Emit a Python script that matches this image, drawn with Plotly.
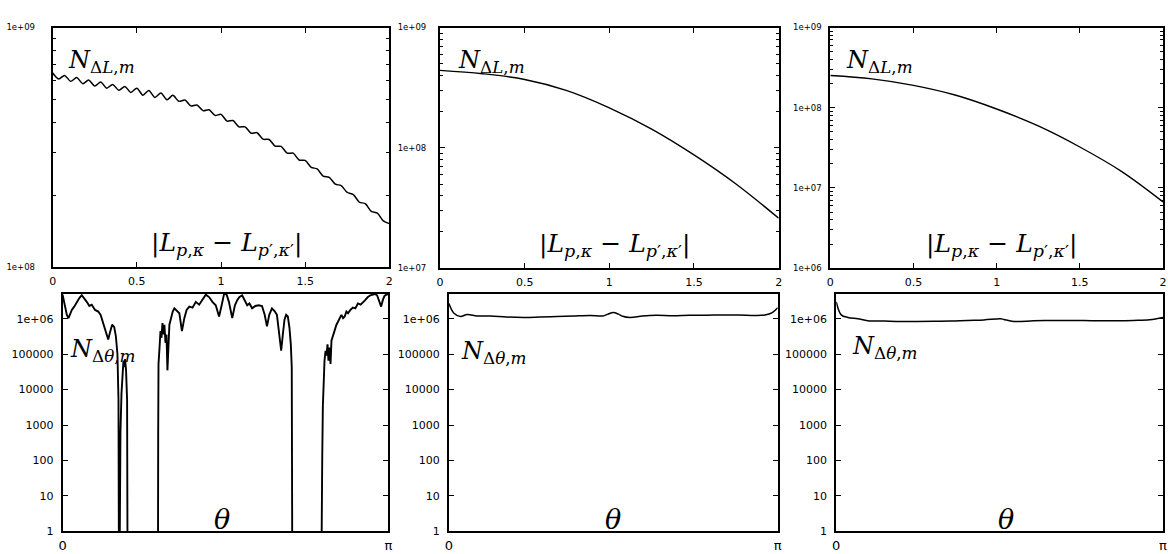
import plotly.graph_objects as go

# ---------------- data ----------------
# Top row: N_{ΔL,m} versus |L_{p,κ} - L_{p',κ'}|
dl_x_left = [0.000, 0.036, 0.071, 0.107, 0.143, 0.179, 0.214, 0.250, 0.286, 0.321,
             0.357, 0.393, 0.429, 0.464, 0.500, 0.536, 0.571, 0.607, 0.643, 0.679,
             0.714, 0.750, 0.786, 0.821, 0.857, 0.893, 0.929, 0.964, 1.000, 1.036,
             1.071, 1.107, 1.143, 1.179, 1.214, 1.250, 1.286, 1.321, 1.357, 1.393,
             1.429, 1.464, 1.500, 1.536, 1.571, 1.607, 1.643, 1.679, 1.714, 1.750,
             1.786, 1.821, 1.857, 1.893, 1.929, 1.964, 2.000]
dl_y_left = [6.46e8, 6.10e8, 6.31e8, 5.96e8, 6.18e8, 5.83e8, 6.04e8, 5.70e8, 5.92e8, 5.58e8,
             5.79e8, 5.47e8, 5.68e8, 5.36e8, 5.58e8, 5.22e8, 5.46e8, 5.11e8, 5.33e8, 4.99e8,
             5.21e8, 4.92e8, 4.98e8, 4.71e8, 4.75e8, 4.50e8, 4.54e8, 4.30e8, 4.34e8, 4.07e8,
             4.09e8, 3.85e8, 3.85e8, 3.62e8, 3.64e8, 3.42e8, 3.41e8, 3.20e8, 3.19e8, 2.99e8,
             2.99e8, 2.80e8, 2.79e8, 2.61e8, 2.57e8, 2.40e8, 2.37e8, 2.22e8, 2.19e8, 2.05e8,
             2.01e8, 1.87e8, 1.84e8, 1.71e8, 1.68e8, 1.56e8, 1.52e8]

dl_x_smooth = [0.0, 0.25, 0.5, 0.75, 1.0, 1.25, 1.5, 1.75, 2.0]
dl_y_mid = [4.40e8, 4.13e8, 3.70e8, 2.99e8, 2.15e8, 1.43e8, 8.73e7, 4.98e7, 2.60e7]
dl_y_right = [2.52e8, 2.29e8, 1.90e8, 1.44e8, 9.64e7, 5.93e7, 3.24e7, 1.61e7, 6.70e6]

# Bottom row: N_{Δθ,m} versus θ  (0 = empty bin)
th_left = [0.000, 0.013, 0.026, 0.041, 0.057, 0.073, 0.089, 0.112, 0.137, 0.163,
           0.185, 0.207, 0.233, 0.258, 0.281, 0.313, 0.344, 0.367, 0.392, 0.418,
           0.440, 0.456, 0.478, 0.498, 0.514, 0.529, 0.539, 0.545, 0.552, 0.558,
           0.568, 0.577, 0.587, 0.596, 0.603, 0.612, 0.622, 0.628, 0.919, 0.922,
           0.925, 0.935, 0.944, 0.954, 0.963, 0.973, 0.982, 0.992, 1.002, 1.011,
           1.021, 1.030, 1.046, 1.062, 1.078, 1.094, 1.126, 1.151, 1.174, 1.196,
           1.222, 1.253, 1.285, 1.317, 1.349, 1.381, 1.413, 1.445, 1.477, 1.509,
           1.534, 1.556, 1.579, 1.604, 1.636, 1.662, 1.684, 1.706, 1.732, 1.757,
           1.780, 1.802, 1.828, 1.859, 1.891, 1.923, 1.949, 1.971, 1.993, 2.019,
           2.044, 2.067, 2.089, 2.108, 2.124, 2.140, 2.156, 2.172, 2.188, 2.201,
           2.210, 2.213, 2.217, 2.491, 2.497, 2.504, 2.510, 2.517, 2.526, 2.536,
           2.545, 2.555, 2.564, 2.574, 2.584, 2.593, 2.609, 2.625, 2.641, 2.657,
           2.673, 2.689, 2.705, 2.721, 2.737, 2.753, 2.775, 2.800, 2.823, 2.848,
           2.874, 2.896, 2.918, 2.944, 2.969, 2.992, 3.014, 3.033, 3.056, 3.072,
           3.088, 3.104, 3.123, 3.142]
n_left = [4.8e6, 3.0e6, 1.97e6, 1.29e6, 1.04e6, 1.43e6, 1.77e6, 2.2e6, 3.0e6, 3.9e6,
          4.6e6, 3.9e6, 3.0e6, 2.3e6, 2.5e6, 1.77e6, 1.6e6, 1.29e6, 7.6e5, 4.5e5,
          2.6e5, 4.0e5, 6.8e5, 5.8e5, 3.2e5, 1.0e5, 5.1e3, 0, 0, 620,
          7.9e3, 3.5e4, 6.6e4, 4.3e4, 7.3e4, 3.5e4, 5.1e3, 0, 0, 620,
          5.3e4, 1.55e5, 4.5e5, 2.9e5, 7.6e5, 3.6e5, 6.8e5, 2.1e5, 3.6e5, 3.5e4,
          3.6e5, 6.8e5, 1.04e6, 1.6e6, 1.97e6, 1.77e6, 1.43e6, 4.5e5, 1.04e6, 1.77e6,
          2.2e6, 2.06e6, 3.0e6, 2.5e6, 3.35e6, 4.8e6, 4.1e6, 3.0e6, 2.4e6, 1.16e6,
          2.4e6, 4.8e6, 5.1e6, 3.0e6, 1.04e6, 2.4e6, 3.35e6, 4.1e6, 4.6e6, 3.35e6,
          2.4e6, 2.7e6, 1.97e6, 2.3e6, 2.4e6, 2.3e6, 1.29e6, 6.1e5, 1.29e6, 1.97e6,
          1.66e6, 1.29e6, 3.6e5, 1.25e5, 3.6e5, 9.4e5, 1.29e6, 1.16e6, 5.5e5, 1.9e5,
          4.3e4, 620, 0, 0, 9, 115, 3.4e3, 2.3e4, 6.6e4, 1.25e5,
          9.1e4, 1.9e5, 6.6e4, 1.55e5, 5.3e4, 2.4e5, 3.6e5, 5.0e5, 6.8e5, 8.4e5,
          1.09e6, 1.29e6, 1.04e6, 1.16e6, 1.6e6, 1.43e6, 1.77e6, 2.06e6, 1.97e6, 2.7e6,
          2.5e6, 3.0e6, 3.35e6, 4.1e6, 4.6e6, 4.8e6, 5.0e6, 4.6e6, 3.0e6, 2.2e6,
          3.35e6, 4.4e6, 4.8e6, 5.0e6]

th_mid = [0.000, 0.048, 0.111, 0.174, 0.269, 0.396, 0.550, 0.713, 0.870, 1.030,
          1.190, 1.350, 1.470, 1.520, 1.570, 1.620, 1.660, 1.730, 1.850, 1.980,
          2.140, 2.300, 2.460, 2.610, 2.770, 2.930, 3.020, 3.090, 3.142]
n_mid = [2.7e6, 1.43e6, 1.16e6, 1.32e6, 1.20e6, 1.20e6, 1.12e6, 1.09e6, 1.12e6, 1.16e6,
         1.20e6, 1.24e6, 1.20e6, 1.35e6, 1.50e6, 1.35e6, 1.18e6, 1.09e6, 1.20e6, 1.26e6,
         1.22e6, 1.26e6, 1.26e6, 1.28e6, 1.28e6, 1.24e6, 1.28e6, 1.50e6, 2.06e6]

th_right = [0.000, 0.048, 0.112, 0.207, 0.303, 0.462, 0.622, 0.782, 0.941, 1.100,
            1.260, 1.420, 1.579, 1.611, 1.706, 1.898, 2.060, 2.217, 2.380, 2.536,
            2.700, 2.855, 3.014, 3.142]
n_right = [3.0e6, 1.29e6, 1.09e6, 1.00e6, 0.88e6, 0.86e6, 0.84e6, 0.84e6, 0.85e6, 0.86e6,
           0.90e6, 0.93e6, 1.00e6, 0.96e6, 0.84e6, 0.88e6, 0.89e6, 0.90e6, 0.89e6, 0.88e6,
           0.88e6, 0.90e6, 0.94e6, 1.09e6]

top_xticks = [0, 0.5, 1, 1.5, 2]
top_xtext = ["0", "0.5", "1", "1.5", "2"]
bot_xticks = [0, 3.14159265]
bot_xtext = ["0", "π"]
bot_yticks = [1, 10, 100, 1000, 10000, 100000, 1e6]
bot_ytext = ["1", "10", "100", "1000", "10000", "100000", "1e+06"]

FLOOR = 1e-3  # empty bins drawn below the log axis

# ---------------- figure ----------------
W, H = 1168, 554
fig = go.Figure()

fig.add_trace(go.Scatter(x=dl_x_left, y=dl_y_left, mode="lines", line=dict(color="black", width=1.5, shape="spline", smoothing=0.8), xaxis="x", yaxis="y"))
fig.add_trace(go.Scatter(x=dl_x_smooth, y=dl_y_mid, mode="lines", line=dict(color="black", width=1.4, shape="spline"), xaxis="x2", yaxis="y2"))
fig.add_trace(go.Scatter(x=dl_x_smooth, y=dl_y_right, mode="lines", line=dict(color="black", width=1.4, shape="spline"), xaxis="x3", yaxis="y3"))
fig.add_trace(go.Scatter(x=th_left, y=[v if v > 0 else FLOOR for v in n_left], mode="lines", line=dict(color="black", width=1.9), xaxis="x4", yaxis="y4"))
fig.add_trace(go.Scatter(x=th_mid, y=n_mid, mode="lines", line=dict(color="black", width=1.5, shape="spline"), xaxis="x5", yaxis="y5"))
fig.add_trace(go.Scatter(x=th_right, y=n_right, mode="lines", line=dict(color="black", width=1.5, shape="spline"), xaxis="x6", yaxis="y6"))


def px_dom(a, b, total):
    return [a / total, b / total]


def ydom(top, bottom):
    return [1 - bottom / H, 1 - top / H]


panels = {
    1: dict(x=px_dom(49, 388, W), y=ydom(23, 268)),
    2: dict(x=px_dom(439, 780, W), y=ydom(23, 269)),
    3: dict(x=px_dom(832, 1167, W), y=ydom(23, 269)),
    4: dict(x=px_dom(59, 387, W), y=ydom(295, 538)),
    5: dict(x=px_dom(448, 779, W), y=ydom(295, 538)),
    6: dict(x=px_dom(838, 1167, W), y=ydom(295, 538)),
}

axis_common = dict(showline=True, linewidth=2, linecolor="black", mirror="ticks",
                   ticks="inside", ticklen=5, tickwidth=1, tickcolor="black",
                   showgrid=False, zeroline=False)
tickfont_big = dict(family="DejaVu Sans", size=11, color="black")
tickfont_pi = dict(family="DejaVu Sans", size=13, color="black")
tickfont_small = dict(family="DejaVu Sans", size=8.5, color="black")

top_yranges = {1: (8, 9), 2: (7, 9), 3: (6, 9)}
standoffs = {1: 14, 2: 10, 3: 5}

layout = dict(width=W, height=H, margin=dict(l=0, r=0, t=0, b=0),
              paper_bgcolor="white", plot_bgcolor="white", showlegend=False)

for i in (1, 2, 3):
    xs = "" if i == 1 else str(i)
    lo, hi = top_yranges[i]
    major = [10 ** e for e in range(lo, hi + 1)]
    minor_vals = [m * 10 ** e for e in range(lo, hi) for m in range(2, 10)]
    layout["xaxis" + xs] = dict(axis_common, domain=panels[i]["x"], anchor="y" + xs,
                                range=[0, 2], tickvals=top_xticks, ticktext=top_xtext,
                                tickfont=tickfont_big, ticklabelstandoff=3)
    layout["yaxis" + xs] = dict(axis_common, domain=panels[i]["y"], anchor="x" + xs,
                                type="log", range=[lo, hi], tickvals=major,
                                ticktext=["1e+%02d" % e for e in range(lo, hi + 1)],
                                tickfont=tickfont_small, ticklabelstandoff=standoffs[i],
                                minor=dict(tickvals=minor_vals, ticks="inside", ticklen=3,
                                           tickcolor="black", showgrid=False))

for i in (4, 5, 6):
    xs = str(i)
    layout["xaxis" + xs] = dict(axis_common, domain=panels[i]["x"], anchor="y" + xs,
                                range=[0, 3.14159265], tickvals=bot_xticks, ticktext=bot_xtext,
                                tickfont=tickfont_pi, ticklabelstandoff=1)
    layout["yaxis" + xs] = dict(axis_common, domain=panels[i]["y"], anchor="x" + xs,
                                type="log", range=[0, 6.71], tickvals=bot_yticks,
                                ticktext=bot_ytext, tickfont=tickfont_big, ticklabelstandoff=5)

fig.update_layout(**layout)

serif = dict(family="DejaVu Serif", size=24, color="black")
NL = "<i>N</i><sub>Δ<i>L</i>,<i>m</i></sub>"
NT = "<i>N</i><sub>Δ<i>θ</i>,<i>m</i></sub>"
LL = "|<i>L</i><sub><i>p</i>,<i>κ</i></sub> − <i>L</i><sub><i>p</i>′,<i>κ</i>′</sub>|"

ann = []
for xs, xpos in (("", 0.041), ("2", 0.047), ("3", 0.04)):
    ann.append(dict(text=NL, xref="x%s domain" % xs, yref="y%s domain" % xs, x=xpos, y=0.93,
                    xanchor="left", yanchor="top", showarrow=False, font=serif))
    ann.append(dict(text=LL, xref="x%s domain" % xs, yref="y%s domain" % xs, x=0.515, y=0.02,
                    xanchor="center", yanchor="bottom", showarrow=False,
                    font=dict(family="DejaVu Serif", size=25, color="black")))
for xs, xpos, ypos, tx in (("4", 0.018, 0.835, 0.49), ("5", 0.03, 0.827, 0.5), ("6", 0.043, 0.848, 0.52)):
    ann.append(dict(text=NT, xref="x%s domain" % xs, yref="y%s domain" % xs, x=xpos, y=ypos,
                    xanchor="left", yanchor="top", showarrow=False, font=serif))
    ann.append(dict(text="<i>θ</i>", xref="x%s domain" % xs, yref="y%s domain" % xs, x=tx, y=0.05,
                    xanchor="center", yanchor="middle", showarrow=False,
                    font=dict(family="DejaVu Serif", size=27, color="black")))
fig.update_layout(annotations=ann)

fig.write_html("out.html", config={"displayModeBar": False},
               post_script="document.body.style.margin='0';document.body.style.overflow='hidden';")
